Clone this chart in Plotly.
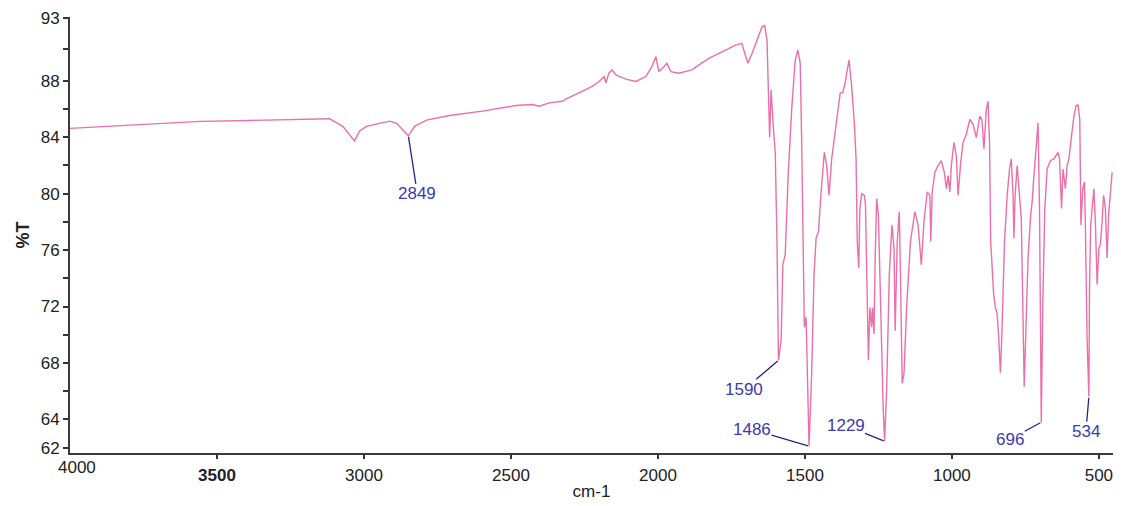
import plotly.graph_objects as go

# FT-IR transmission spectrum (wavenumber in cm-1, transmittance in %T)
wavenumber = [
    4000, 3829, 3693, 3558, 3388, 3218, 3117, 3072, 3049, 3032, 3015, 2991,
    2947, 2913, 2889, 2869, 2849, 2828, 2787, 2709, 2597, 2482, 2428, 2404,
    2370, 2326, 2312, 2258, 2224, 2200, 2183, 2177, 2167, 2156, 2143, 2109,
    2075, 2041, 2021, 2007, 1997, 1980, 1970, 1956, 1929, 1885, 1827, 1770,
    1736, 1715, 1694, 1680, 1663, 1646, 1637, 1629, 1620, 1615, 1607, 1601,
    1595, 1590, 1581, 1575, 1567, 1557, 1545, 1533, 1524, 1516, 1511, 1505,
    1502, 1496, 1490, 1486, 1477, 1469, 1462, 1454, 1445, 1434, 1426, 1418,
    1409, 1397, 1380, 1372, 1363, 1358, 1350, 1341, 1332, 1326, 1322, 1317,
    1313, 1307, 1298, 1294, 1290, 1284, 1279, 1273, 1270, 1265, 1261, 1256,
    1250, 1243, 1234, 1229, 1222, 1213, 1204, 1197, 1193, 1186, 1179, 1175,
    1169, 1163, 1154, 1141, 1126, 1115, 1104, 1095, 1084, 1075, 1072, 1067,
    1058, 1047, 1036, 1026, 1019, 1013, 1007, 1002, 993, 985, 979, 970,
    962, 951, 939, 928, 917, 905, 898, 891, 883, 877, 872, 868,
    864, 858, 852, 846, 841, 835, 830, 821, 812, 804, 798, 792,
    789, 785, 778, 770, 764, 754, 747, 741, 732, 727, 721, 713,
    707, 702, 696, 691, 684, 676, 665, 653, 645, 639, 634, 627,
    622, 614, 608, 602, 593, 585, 578, 571, 565, 561, 555, 549,
    546, 540, 534, 532, 528, 523, 517, 512, 506, 500, 495, 489,
    484, 478, 472, 467, 461, 455,
]
transmittance = [
    84.63, 84.84, 84.98, 85.12, 85.19, 85.26, 85.31, 84.77, 84.21, 83.74, 84.44, 84.77,
    84.98, 85.14, 84.98, 84.56, 84.10, 84.77, 85.21, 85.54, 85.85, 86.25, 86.32, 86.20,
    86.43, 86.55, 86.72, 87.25, 87.60, 87.95, 88.30, 87.84, 88.54, 88.77, 88.42, 88.12,
    87.95, 88.30, 89.00, 89.71, 88.65, 89.00, 89.24, 88.65, 88.54, 88.77, 89.59, 90.18,
    90.53, 90.65, 89.24, 89.94, 90.88, 91.81, 91.93, 90.88, 84.00, 87.37, 84.56, 82.93,
    76.63, 68.19, 69.61, 74.97, 75.67, 81.28, 85.96, 89.47, 90.18, 89.24, 83.63, 71.93,
    70.53, 71.23, 64.91, 62.10, 67.25, 74.27, 76.84, 77.31, 80.12, 82.93, 81.99, 79.88,
    82.46, 84.56, 87.14, 87.14, 87.84, 88.54, 89.47, 87.60, 85.03, 82.46, 76.61, 74.74,
    78.95, 80.00, 79.88, 79.18, 73.80, 68.19, 71.93, 70.53, 71.93, 70.05, 75.44, 79.65,
    78.48, 71.93, 64.91, 62.45, 66.08, 74.27, 77.78, 76.14, 70.29, 76.61, 78.72, 74.27,
    66.55, 67.25, 71.93, 76.61, 78.72, 77.77, 74.97, 78.01, 80.12, 79.88, 76.61, 80.12,
    81.52, 81.99, 82.34, 81.52, 80.35, 81.28, 80.12, 81.99, 83.63, 82.69, 79.88, 82.22,
    83.63, 84.21, 85.26, 84.91, 83.98, 85.49, 85.26, 83.16, 85.96, 86.55, 83.63, 76.61,
    74.74, 72.86, 71.93, 71.46, 69.89, 67.31, 70.05, 76.61, 79.88, 81.75, 82.46, 79.88,
    76.84, 79.88, 81.99, 79.88, 78.24, 66.31, 70.76, 75.44, 78.48, 79.42, 81.28, 83.63,
    85.03, 78.95, 63.80, 71.93, 78.95, 81.75, 82.34, 82.46, 82.69, 82.93, 82.46, 78.95,
    81.75, 80.35, 81.99, 82.46, 84.09, 85.49, 86.20, 86.32, 85.26, 77.77, 80.35, 80.82,
    77.77, 69.59, 65.61, 73.10, 77.77, 78.95, 80.35, 78.01, 73.56, 76.14, 76.37, 78.01,
    79.88, 78.95, 75.44, 78.48, 80.35, 81.52,
]

# labelled absorption bands (wavenumber of the minimum)
peak_labels = [2849, 1590, 1486, 1229, 696, 534]

# y ticks; the top tick sits at the upper edge of the frame
y_tickvals = [62, 64, 68, 72, 76, 80, 84, 88, 92.45]
y_ticktext = ["62", "64", "68", "72", "76", "80", "84", "88", "93"]
y_minor = [66, 70, 74, 78, 82, 86, 90.25]

x_tickvals = [3500, 3000, 2500, 2000, 1500, 1000, 500]
x_ticktext = ["<b>3500</b>", "3000", "2500", "2000", "1500", "1000", "500"]

FONT = "Arial, Liberation Sans, sans-serif"
LINE_PINK = "#ec6fa9"
LABEL_BLUE = "#3a3ab4"
LEADER = "#24248c"

fig = go.Figure()
fig.add_trace(go.Scatter(
    x=wavenumber, y=transmittance, mode="lines",
    line=dict(color=LINE_PINK, width=1.4),
    hoverinfo="x+y", showlegend=False,
))

# text offsets (px) of each band label relative to its minimum
label_offsets = {2849: (9, 58), 1590: (-34, 29), 1486: (-57, -17),
                 1229: (-39, -16), 696: (-31, 17), 534: (-3, 35)}

for wn in peak_labels:
    t = transmittance[wavenumber.index(wn)]
    ax, ay = label_offsets[wn]
    fig.add_annotation(
        x=wn, y=t, text=str(wn), showarrow=True,
        ax=ax, ay=ay, arrowhead=0, arrowwidth=1.3, arrowcolor=LEADER,
        standoff=1, borderpad=0,
        font=dict(family=FONT, size=17, color=LABEL_BLUE),
    )

# left end of the wavenumber axis, set just right of the frame corner
fig.add_annotation(
    x=4000, y=0, xref="x", yref="paper", text="4000", showarrow=False,
    xanchor="center", yanchor="middle", yshift=-14, xshift=7,
    font=dict(family=FONT, size=17, color="#222222"),
)

fig.update_layout(
    width=1121, height=506,
    margin=dict(l=70, r=8, t=17, b=49),
    paper_bgcolor="white", plot_bgcolor="white",
    font=dict(family=FONT, size=17, color="#222222"),
    xaxis=dict(
        range=[4000, 452], autorange=False,
        tickmode="array", tickvals=x_tickvals, ticktext=x_ticktext,
        ticks="outside", ticklen=4, tickwidth=1.5, tickcolor="#333333",
        ticklabelstandoff=2,
        showline=True, linecolor="#3a3a3a", linewidth=2,
        showgrid=False, zeroline=False,
        title=dict(text="cm-1", standoff=1, font=dict(family=FONT, size=17, color="#222222")),
        tickfont=dict(family=FONT, size=17, color="#222222"),
    ),
    yaxis=dict(
        range=[61.62, 92.52], autorange=False,
        tickmode="array", tickvals=y_tickvals, ticktext=y_ticktext,
        ticks="outside", ticklen=5, tickwidth=1.5, tickcolor="#333333",
        minor=dict(tickmode="array", tickvals=y_minor, ticks="outside",
                   ticklen=5, tickwidth=1.5, tickcolor="#333333", showgrid=False),
        showline=True, linecolor="#3a3a3a", linewidth=2,
        showgrid=False, zeroline=False,
        title=dict(text="<b>%T</b>", standoff=6, font=dict(family=FONT, size=18, color="#222222")),
        tickfont=dict(family=FONT, size=17, color="#222222"),
    ),
)

fig.write_html("out.html")
